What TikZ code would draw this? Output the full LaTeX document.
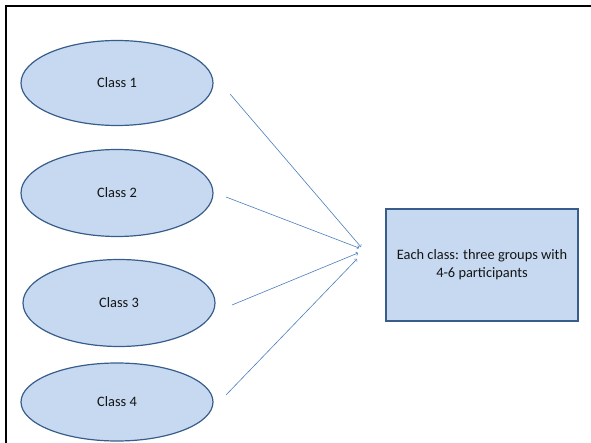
\documentclass[tikz,border=0pt]{standalone}
\usepackage{fontspec}
\setmainfont{Carlito}
\usetikzlibrary{shapes.geometric}

\definecolor{classfill}{RGB}{198,217,241}
\definecolor{classline}{RGB}{56,93,138}
\definecolor{freccia}{RGB}{74,126,187}
\definecolor{testo}{RGB}{20,20,20}

\tikzset{
    classe/.style={draw=classline, line width=1.2pt, ellipse, fill=classfill, minimum width=192pt, minimum height=85pt, inner sep=0pt},
    gruppi/.style={draw=classline, line width=1.5pt, rectangle, fill=classfill, minimum width=192pt, minimum height=112pt, align=center},
    freccia/.style={draw=freccia, line width=0.6pt, ->}
}

\begin{document}
\begin{tikzpicture}[x=1pt, y=-1pt, font=\fontsize{14.4}{18.3}\selectfont, text=testo]
    \useasboundingbox (0,0) rectangle (591,443);
    \draw[line width=2pt] (6,443) -- (6,6) -- (591,6);

    %% classi e gruppi
    \draw
    (117,83)node[classe](c1){Class 1}
    (117,193)node[classe, minimum height=87pt](c2){Class 2}
    (119,303)node[classe, minimum height=87pt](c3){Class 3}
    (117,402)node[classe, minimum height=78pt](c4){Class 4}
    (482,265)node[gruppi](g){Each class: three groups with\\4-6 participants}
    ;

    %% frecce
    \coordinate (s1) at (230,94);
    \coordinate (e1) at (361,247);
    \coordinate (s2) at (226,197);
    \coordinate (e2) at (359,248);
    \coordinate (s3) at (232,305);
    \coordinate (e3) at (358,253);
    \coordinate (s4) at (226,395);
    \coordinate (e4) at (357,259);
    \draw[freccia] (s1) -- (e1);
    \draw[freccia] (s2) -- (e2);
    \draw[freccia] (s3) -- (e3);
    \draw[freccia] (s4) -- (e4);
\end{tikzpicture}
\end{document}
